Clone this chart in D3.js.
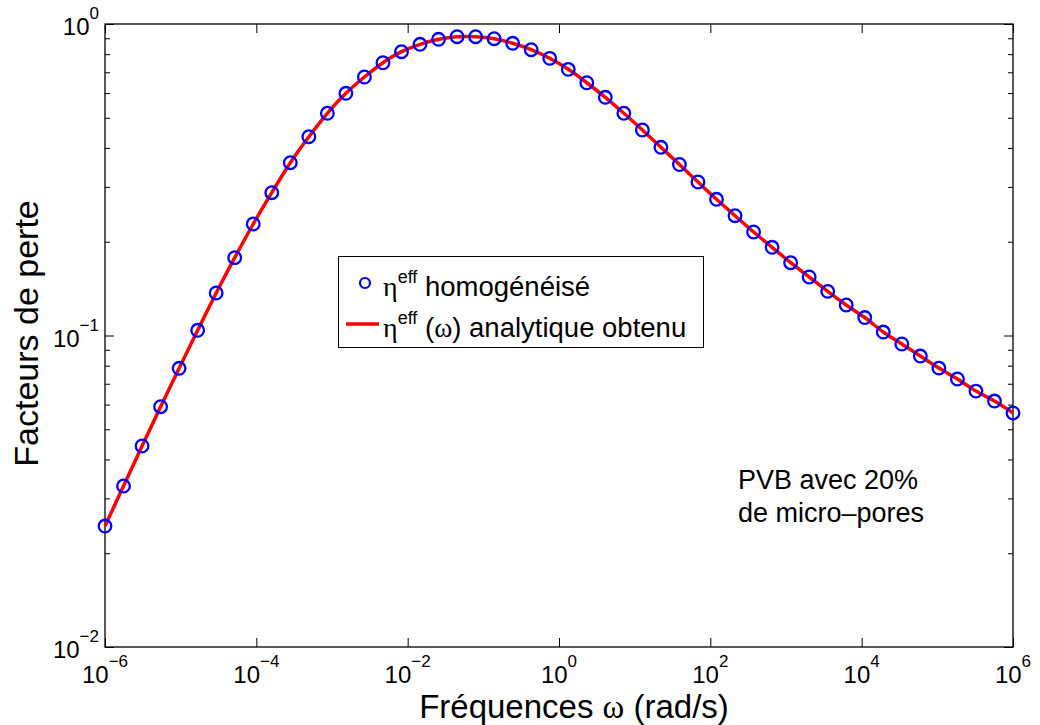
<!DOCTYPE html>
<html><head><meta charset="utf-8">
<script src="https://cdn.jsdelivr.net/npm/d3@7"></script>
<style>
body{margin:0;background:#fff}
svg{display:block}
text{font-family:"Liberation Sans",Arial,Helvetica,sans-serif;fill:#000}
.sym{font-family:"Liberation Serif","Times New Roman",serif}
</style>
</head><body>
<svg id="c" width="1040" height="725"></svg>
<script>
// log10 of angular frequency (rad/s) for each sample
const logOmega = [-6, -5.7551, -5.5102, -5.2653, -5.0204, -4.7755, -4.5306, -4.2857, -4.0408, -3.7959,
  -3.5510, -3.3061, -3.0612, -2.8163, -2.5714, -2.3265, -2.0816, -1.8367, -1.5918, -1.3469,
  -1.1020, -0.8571, -0.6122, -0.3673, -0.1224, 0.1224, 0.3673, 0.6122, 0.8571, 1.1020,
  1.3469, 1.5918, 1.8367, 2.0816, 2.3265, 2.5714, 2.8163, 3.0612, 3.3061, 3.5510,
  3.7959, 4.0408, 4.2857, 4.5306, 4.7755, 5.0204, 5.2653, 5.5102, 5.7551, 6];
// homogenised loss factor (circles)
const etaHomog = [0.02445, 0.03287, 0.04418, 0.05907, 0.07847, 0.1039, 0.1369, 0.1778, 0.2280, 0.2874,
  0.3587, 0.4347, 0.5169, 0.5991, 0.6758, 0.7510, 0.8149, 0.8607, 0.8931, 0.9104,
  0.9104, 0.8971, 0.8671, 0.8270, 0.7759, 0.7153, 0.6478, 0.5816, 0.5169, 0.4568,
  0.4020, 0.3540, 0.3110, 0.2737, 0.2424, 0.2149, 0.1919, 0.1713, 0.1541, 0.1386,
  0.1253, 0.1142, 0.1026, 0.0939, 0.0859, 0.0786, 0.0725, 0.0663, 0.0616, 0.0564];
// analytic loss factor (red line)
const etaAnalytic = etaHomog.slice();

const xTickExps = [-6, -4, -2, 0, 2, 4, 6];
const yTickExps = [-2, -1, 0];
const yMinorMult = [2, 3, 4, 5, 6, 7, 8, 9];

const svg = d3.select("#c");
const L = 105, R = 1013, T = 24, B = 647;
const x = d3.scaleLog().domain([1e-6, 1e6]).range([L, R]);
const y = d3.scaleLog().domain([1e-2, 1]).range([B, T]);

const ptsH = logOmega.map((e, i) => ({f: Math.pow(10, e), v: etaHomog[i]}));
const ptsA = logOmega.map((e, i) => ({f: Math.pow(10, e), v: etaAnalytic[i]}));

const xMajor = xTickExps.map(e => Math.pow(10, e));
const yMajor = yTickExps.map(e => Math.pow(10, e));
const yMinor = [];
[1e-2, 1e-1].forEach(d => yMinorMult.forEach(m => yMinor.push(d * m)));

const g = svg.append("g");
function tickAxis(axisFn, scale, vals, size, tr) {
  const a = g.append("g").attr("transform", tr)
    .call(axisFn(scale).tickValues(vals).tickSize(size).tickSizeOuter(0).tickFormat(""));
  a.select(".domain").remove();
  a.selectAll("line").attr("stroke", "#000").attr("stroke-width", 1);
}
tickAxis(d3.axisBottom, x, xMajor, -9, `translate(0,${B})`);
tickAxis(d3.axisTop, x, xMajor, -9, `translate(0,${T})`);
tickAxis(d3.axisLeft, y, yMajor, -9, `translate(${L},0)`);
tickAxis(d3.axisRight, y, yMajor, -9, `translate(${R},0)`);
tickAxis(d3.axisLeft, y, yMinor, -5, `translate(${L},0)`);
tickAxis(d3.axisRight, y, yMinor, -5, `translate(${R},0)`);

g.append("rect").attr("x", L).attr("y", T).attr("width", R - L).attr("height", B - T)
  .attr("fill", "none").attr("stroke", "#000").attr("stroke-width", 1.3);

// x tick labels
xTickExps.forEach(e => {
  const t = svg.append("text").attr("x", x(Math.pow(10, e))).attr("y", 683)
    .attr("text-anchor", "middle").style("font-size", "24px");
  t.append("tspan").text("10");
  t.append("tspan").attr("dy", -16).style("font-size", "17px").text(e < 0 ? "\u2212" + (-e) : String(e));
});
// y tick labels
yTickExps.forEach(e => {
  const t = svg.append("text").attr("x", 99).attr("y", y(Math.pow(10, e)) + 11)
    .attr("text-anchor", "end").style("font-size", "24px");
  t.append("tspan").text("10");
  t.append("tspan").attr("dy", -16).style("font-size", "17px").text(e < 0 ? "\u2212" + (-e) : String(e));
});

// axis titles
svg.append("text").attr("x", (L + R) / 2 + 15).attr("y", 718).attr("text-anchor", "middle")
  .style("font-size", "33px")
  .call(t => { t.append("tspan").text("Fréquences "); t.append("tspan").attr("class", "sym").text("ω"); t.append("tspan").text(" (rad/s)"); });
svg.append("text").attr("transform", `translate(38,${(T + B) / 2 - 2}) rotate(-90)`)
  .attr("text-anchor", "middle").style("font-size", "34px").text("Facteurs de perte");

// analytic line
const line = d3.line().x(d => x(d.f)).y(d => y(d.v)).curve(d3.curveCatmullRom);
svg.append("path").datum(ptsA).attr("d", line).attr("fill", "none")
  .attr("stroke", "#ff0000").attr("stroke-width", 3.5);

// circles
svg.append("g").selectAll("circle").data(ptsH).join("circle")
  .attr("cx", d => x(d.f)).attr("cy", d => y(d.v)).attr("r", 6.3)
  .attr("fill", "none").attr("stroke", "#0000ff").attr("stroke-width", 2.3);

// legend
const lg = svg.append("g");
lg.append("rect").attr("x", 338.5).attr("y", 256.5).attr("width", 365).attr("height", 91)
  .attr("fill", "#fff").attr("stroke", "#000").attr("stroke-width", 1);
lg.append("circle").attr("cx", 365).attr("cy", 283).attr("r", 5)
  .attr("fill", "none").attr("stroke", "#0000ff").attr("stroke-width", 2.2);
lg.append("line").attr("x1", 346).attr("x2", 379).attr("y1", 324).attr("y2", 324)
  .attr("stroke", "#ff0000").attr("stroke-width", 3.5);
const t1 = lg.append("text").attr("x", 383).attr("y", 296).style("font-size", "27.5px");
t1.append("tspan").attr("class", "sym").style("font-size", "28px").text("η");
t1.append("tspan").attr("dy", -13).style("font-size", "18px").text("eff");
t1.append("tspan").attr("dy", 13).text(" homogénéisé");
const t2 = lg.append("text").attr("x", 383).attr("y", 337).style("font-size", "27.5px");
t2.append("tspan").attr("class", "sym").style("font-size", "28px").text("η");
t2.append("tspan").attr("dy", -13).style("font-size", "18px").text("eff");
t2.append("tspan").attr("dy", 13).text(" (");
t2.append("tspan").attr("class", "sym").text("ω");
t2.append("tspan").text(") analytique obtenu");

// annotation
svg.append("text").attr("x", 738).attr("y", 489).style("font-size", "27px").text("PVB avec 20%");
svg.append("text").attr("x", 738).attr("y", 522).style("font-size", "27px").text("de micro\u2013pores");
</script>
</body></html>
